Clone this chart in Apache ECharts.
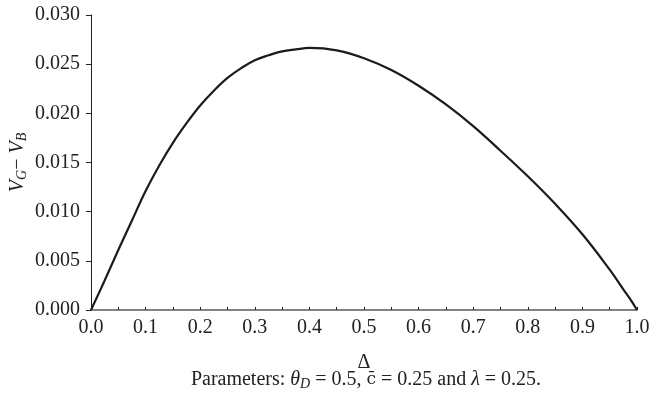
<!DOCTYPE html>
<html>
<head>
<meta charset="utf-8">
<script src="https://cdn.jsdelivr.net/npm/echarts@6/dist/echarts.min.js"></script>
<style>
  html, body { margin: 0; padding: 0; background: #fff; }
  #chart { width: 656px; height: 395px; }
</style>
</head>
<body>
<div id="chart"></div>
<script>
// Δ values (x) and the gap V_G − V_B (y)
const delta = [0, 0.025, 0.05, 0.075, 0.1, 0.125, 0.15, 0.175, 0.2, 0.225, 0.25, 0.275,
  0.3, 0.325, 0.35, 0.375, 0.4, 0.45, 0.5, 0.55, 0.6, 0.65, 0.7, 0.75, 0.8, 0.85, 0.9, 0.95,
  0.975, 0.99, 1.0];
const gap = [0, 0.0030, 0.0061, 0.0091, 0.0121, 0.0147, 0.0170, 0.0190, 0.0208, 0.0223,
  0.0236, 0.0246, 0.0254, 0.0259, 0.0263, 0.0265, 0.02665, 0.0264, 0.0256, 0.0244, 0.0228, 0.0209,
  0.0187, 0.0162, 0.0136, 0.0108, 0.0077, 0.0041, 0.0021, 0.0009, 0];

const xTicks = { min: 0, max: 1, step: 0.05 };
const yTicks = { min: 0, max: 0.03, step: 0.005 };

const FONT = 'Liberation Serif';
const INK = '#222';
const points = delta.map((d, i) => [d, gap[i]]);

const chart = echarts.init(document.getElementById('chart'), null, { renderer: 'canvas' });
chart.setOption({
  animation: false,
  backgroundColor: '#ffffff',
  grid: { left: 91, right: 19, top: 15, bottom: 85, containLabel: false, outerBoundsMode: 'none' },
  xAxis: {
    type: 'value',
    min: xTicks.min, max: xTicks.max, interval: xTicks.step,
    name: 'Δ',
    nameLocation: 'middle',
    nameGap: 43,
    nameMoveOverlap: false,
    nameTextStyle: { fontFamily: FONT, fontSize: 20, color: INK },
    axisLine: { show: true, onZero: false, lineStyle: { color: '#5a5a5a', width: 1.6 } },
    axisTick: { show: true, inside: true, length: 3, lineStyle: { color: INK, width: 1 } },
    axisLabel: {
      margin: 8,
      fontFamily: FONT, fontSize: 20, color: INK,
      formatter: v => (Math.round(v * 100) % 10 === 0 ? v.toFixed(1) : '')
    },
    splitLine: { show: false }
  },
  yAxis: {
    type: 'value',
    min: yTicks.min, max: yTicks.max, interval: yTicks.step,
    name: '{i|V}{s|G}{n|− }{i|V}{s|B}',
    nameLocation: 'middle',
    nameGap: 62,
    nameRotate: 90,
    nameMoveOverlap: false,
    nameTextStyle: {
      fontFamily: FONT, fontSize: 20, color: INK,
      rich: {
        i: { fontFamily: FONT, fontSize: 20, fontStyle: 'italic', color: INK },
        n: { fontFamily: FONT, fontSize: 20, color: INK },
        s: { fontFamily: FONT, fontSize: 14, fontStyle: 'italic', color: INK, padding: [9, 0, 0, 0] }
      }
    },
    axisLine: { show: true, lineStyle: { color: INK, width: 1 } },
    axisTick: { show: true, inside: false, length: 5, lineStyle: { color: INK, width: 1 } },
    axisLabel: {
      margin: 11,
      fontFamily: FONT, fontSize: 20, color: INK,
      formatter: v => v.toFixed(3)
    },
    splitLine: { show: false }
  },
  series: [{
    type: 'line',
    data: points,
    smooth: 0.4,
    showSymbol: false,
    lineStyle: { color: '#1c1a1a', width: 2.2 }
  }],
  graphic: [{
    type: 'text',
    x: 366,
    y: 380,
    style: {
      text: 'Parameters: {i|θ}{s|D}{n| = 0.5, }{m|c̄}{n| = 0.25 and }{i|λ}{n| = 0.25.}',
      align: 'center',
      verticalAlign: 'middle',
      fontFamily: FONT, fontSize: 20, fill: INK,
      rich: {
        i: { fontFamily: FONT, fontSize: 20, fontStyle: 'italic', fill: INK },
        n: { fontFamily: FONT, fontSize: 20, fill: INK },
        m: { fontFamily: 'DejaVu Serif', fontSize: 17, fill: INK },
        s: { fontFamily: FONT, fontSize: 14, fontStyle: 'italic', fill: INK, padding: [8, 0, 0, 0] }
      }
    }
  }]
});
</script>
</body>
</html>
